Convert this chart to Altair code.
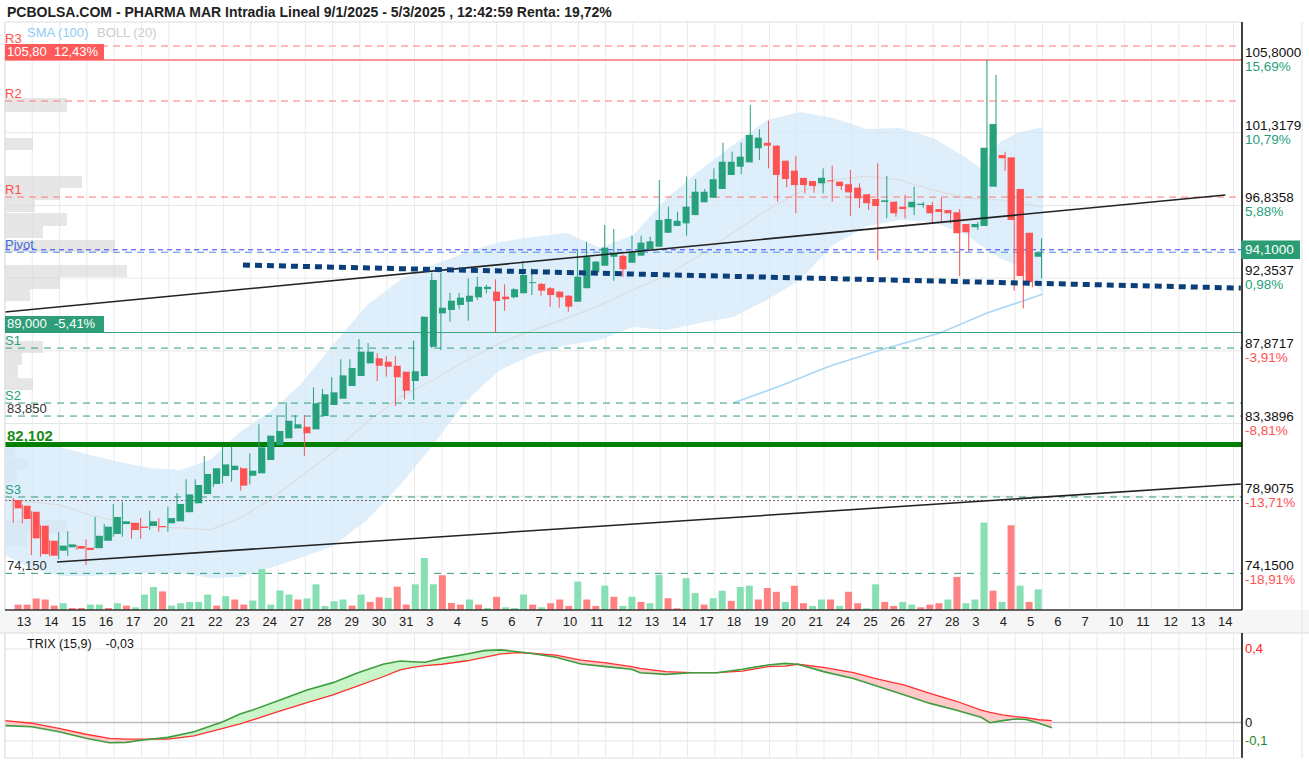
import altair as alt
import pandas as pd
import numpy as np

FONT = "Arial, 'Liberation Sans', sans-serif"
NB = "\u00a0"
TITLE = "PCBOLSA.COM - PHARMA MAR Intradia Lineal 9/1/2025 - 5/3/2025 , 12:42:59 Renta: 19,72%"

day_labels = ["13", "14", "15", "16", "17", "20", "21", "22", "23", "24", "27", "28", "29", "30", "31",
              "3", "4", "5", "6", "7", "10", "11", "12", "13", "14", "17", "18", "19", "20", "21",
              "24", "25", "26", "27", "28", "3", "4", "5", "6", "7", "10", "11", "12", "13", "14"]

opens = [78.67, 78.32, 77.95, 77.09, 76.16, 75.55, 75.76, 75.84, 75.73, 75.70, 76.16, 76.58, 77.19, 77.27, 77.03,
         77.07, 77.07, 77.24, 77.36, 77.92, 78.47, 79.04, 79.66, 80.15, 80.52, 80.63, 80.17, 80.32, 81.14, 82.06,
         82.48, 83.09, 83.19, 83.03, 83.85, 84.53, 84.92, 85.70, 86.32, 87.10, 87.41, 87.20, 86.95, 86.58, 86.01,
         86.32, 88.12, 90.18, 90.39, 90.70, 90.90, 91.17, 91.68, 91.52, 91.21, 91.17, 91.42, 92.04, 92.00, 91.73,
         91.52, 91.27, 90.90, 91.73, 92.71, 93.12, 93.67, 93.73, 93.30, 93.74, 94.15, 94.29, 95.15, 95.57, 95.73,
         96.24, 97.03, 97.31, 97.85, 98.71, 99.22, 99.49, 100.36, 100.70, 100.52, 99.59, 98.98, 98.53, 98.34, 98.20,
         98.38, 98.30, 98.14, 97.93, 97.52, 97.23, 97.05, 97.06, 96.76, 96.72, 96.86, 96.86, 96.61, 96.55, 96.41,
         95.69, 95.49, 95.57, 97.99, 99.94, 99.80, 97.85, 95.15, 93.67]
highs = [78.81, 78.40, 77.98, 77.12, 76.20, 76.68, 76.76, 75.90, 76.25, 77.63, 77.20, 78.43, 78.57, 77.30, 77.56,
         78.01, 77.55, 78.26, 79.09, 79.95, 79.95, 81.39, 80.63, 81.96, 81.96, 80.70, 81.55, 83.34, 82.64, 83.91,
         84.70, 83.91, 83.91, 85.62, 85.52, 86.24, 87.35, 87.35, 88.60, 88.35, 87.72, 87.55, 87.55, 86.60, 88.50,
         90.00, 92.69, 92.67, 91.45, 91.45, 92.34, 92.44, 91.95, 92.28, 91.97, 91.73, 93.41, 92.96, 92.05, 91.80,
         91.55, 91.30, 94.15, 94.60, 93.40, 95.63, 95.38, 93.80, 94.97, 94.97, 94.90, 98.40, 96.76, 96.45, 98.61,
         98.46, 97.85, 99.12, 100.70, 100.15, 100.70, 103.03, 101.53, 102.06, 100.55, 99.60, 99.88, 98.55, 98.35, 99.12,
         99.28, 98.30, 99.02, 98.20, 97.55, 99.43, 98.65, 97.10, 97.48, 97.99, 97.06, 97.06, 97.31, 96.56, 96.61,
         95.70, 95.83, 105.80, 104.88, 100.15, 99.80, 97.85, 95.15, 94.81]
lows = [77.27, 77.24, 75.28, 75.18, 75.20, 75.02, 75.22, 75.60, 74.67, 75.70, 76.16, 76.41, 76.41, 76.29, 76.29,
        76.82, 76.72, 76.72, 77.36, 77.92, 78.47, 79.04, 79.49, 79.70, 79.80, 79.25, 79.64, 80.32, 81.14, 82.06,
        82.48, 83.09, 81.40, 83.03, 83.85, 84.53, 84.92, 85.70, 86.32, 87.10, 86.01, 86.28, 84.47, 84.88, 84.84,
        86.30, 88.04, 87.92, 89.67, 90.43, 89.73, 91.00, 91.42, 89.01, 90.34, 91.10, 91.42, 91.31, 91.27, 90.59,
        90.53, 90.28, 90.90, 91.73, 92.70, 93.12, 92.19, 92.44, 93.30, 93.74, 94.15, 94.29, 95.15, 95.57, 94.97,
        96.24, 97.03, 97.31, 97.85, 98.71, 98.77, 99.49, 99.64, 99.12, 97.06, 97.95, 96.35, 97.58, 97.62, 97.58,
        97.06, 97.79, 96.20, 96.66, 96.55, 93.47, 96.04, 96.14, 96.04, 96.24, 96.70, 95.73, 95.73, 95.73, 92.48,
        93.98, 95.32, 95.57, 97.99, 98.96, 91.58, 90.49, 91.79, 92.34]
closes = [78.16, 77.50, 76.31, 75.34, 75.24, 75.86, 75.94, 75.67, 75.59, 76.47, 77.03, 77.63, 77.36, 76.82, 76.95,
          77.36, 77.00, 77.56, 78.43, 79.02, 79.60, 80.28, 80.63, 80.87, 80.79, 79.56, 80.48, 81.92, 82.64, 82.93,
          83.56, 83.34, 82.79, 84.64, 85.19, 85.31, 86.36, 86.81, 87.82, 87.82, 86.95, 86.89, 86.24, 85.41, 86.61,
          89.97, 92.24, 90.53, 90.96, 91.15, 91.27, 91.82, 91.82, 90.94, 91.05, 91.66, 92.55, 92.10, 91.58, 91.31,
          91.17, 90.59, 92.44, 93.67, 93.37, 94.23, 93.92, 92.90, 93.94, 94.54, 94.62, 95.94, 96.00, 95.89, 96.76,
          97.68, 97.68, 98.45, 99.53, 99.53, 99.84, 101.18, 101.01, 100.52, 98.71, 98.46, 98.09, 98.09, 98.03, 98.54,
          98.32, 98.03, 97.64, 97.27, 96.97, 96.80, 97.15, 96.35, 96.61, 97.06, 96.94, 96.35, 96.43, 96.35, 95.12,
          95.18, 95.69, 100.39, 101.85, 99.74, 95.94, 92.48, 92.10, 93.95]
volumes = [5.4, 5.4, 11.5, 10.5, 4.4, 6.8, 2.0, 2.0, 5.4, 5.4, 2.0, 6.8, 4.4, 2.7, 15.5, 23, 18.6, 4.4, 6.8, 8.1,
           8.1, 15.5, 4.4, 13.9, 10.5, 5.4, 9.5, 40.9, 5.4, 19.6, 15.5, 10.5, 11.5, 25.7, 4.1, 8.8, 10.5, 4.4, 15.5,
           8.1, 12.8, 12.2, 23.3, 5.4, 25.7, 52, 25.7, 34.8, 7.1, 5.4, 10.5, 5.4, 2.0, 13.2, 2.7, 2.0, 15.5,
           5.4, 2.7, 6.8, 10.5, 4.1, 28.4, 10.5, 4.1, 24.3, 13.2, 4.1, 13.2, 8.1, 6.8, 35.1, 11.8, 1.7, 31.8, 16.9,
           5.4, 11.8, 19.3, 9.1, 23, 24.3, 10.5, 22, 18.2, 8.1, 24.3, 6.8, 4.1, 10.5, 10.5, 4.1, 18.2, 6.8, 1.7,
           25.7, 8.1, 4.1, 8.1, 5.4, 2.7, 5.4, 6.8, 10.5, 33.1, 6.8, 10.5, 87.5, 19.3, 8.1, 84.8, 24.3, 8.1, 20.6]
vol_dir = ("RRRRRGRRGGRGRGGGRGGGGGRGRRGGGGGRGGGGGRGRRGRRGGGRRRGRGRGGG"
           "RGRRRGRRGRGGRGGRRGGRGGRGGRRRGRRGGRGRRGGRRGGRRRGRGGGRGRGRG")

boll_k = [-0.9, 1.85, 5.14, 8.44, 11.74, 15.03, 18.33, 21.63, 24.92, 28.22, 31.52, 35.14, 38.88, 42.53, 46.13,
          49.87, 53.49, 57.12, 60.86, 64.48, 68.11, 71.85, 75.47, 79.10, 82.83, 86.46, 90.09, 93.82, 97.45, 101.08,
          104.81, 106.24, 108.44, 110.64, 113.17]
boll_upper = [82.06, 82.06, 81.94, 81.45, 81.02, 80.65, 80.52, 81.14, 82.87, 84.10, 85.76, 88.23, 90.69, 92.24,
              93.16, 93.96, 94.58, 94.89, 95.14, 94.21, 95.01, 97.29, 99.02, 100.56, 102.10, 102.59, 102.22, 101.55,
              101.61, 100.99, 99.76, 99.14, 100.75, 101.36, 101.67]
boll_mid = [78.67, 78.55, 78.37, 77.75, 77.32, 77.01, 76.95, 76.83, 77.56, 78.67, 80.09, 81.63, 83.48, 85.02, 86.07,
            87.31, 88.35, 89.15, 89.89, 90.69, 91.62, 92.55, 93.78, 95.14, 96.55, 97.66, 98.40, 98.65, 98.40, 97.78,
            97.29, 97.23, 97.17, 96.98, 96.74]
boll_lower = [75.28, 74.48, 73.99, 73.99, 74.05, 74.17, 74.17, 73.87, 73.93, 74.48, 75.10, 75.84, 77.44, 79.60,
              82.07, 84.84, 86.69, 87.61, 88.23, 88.54, 89.34, 89.15, 89.59, 89.96, 91.00, 92.24, 94.40, 95.57, 95.94,
              95.81, 95.01, 94.40, 93.59, 93.04, 91.44]

sma_k = [79.1, 84.26, 89.76, 96.02, 101.85, 107.0, 110.64, 113.17]
sma_val = [84.65, 85.70, 86.94, 88.04, 88.97, 90.20, 90.88, 91.37]

prof_lo = [102.59, 100.25, 97.91, 97.17, 96.43, 95.57, 94.83, 93.96, 92.42, 91.68, 90.94, 87.74, 87.00, 86.19,
           85.45, 81.32, 80.52, 79.78, 76.64, 75.84]
prof_hi = [103.46, 100.99, 98.65, 97.91, 97.17, 96.37, 95.57, 94.70, 93.16, 92.42, 91.68, 88.48, 87.74, 87.00,
           86.19, 81.94, 81.26, 80.52, 77.44, 76.64]
prof_vol = [62, 28, 77, 55, 30, 62, 38, 110, 122, 55, 25, 38, 17, 13, 28, 10, 23, 12, 62, 22]

tick_vals = [105.8, 101.3179, 96.8358, 92.3537, 87.8717, 83.3896, 78.9075, 74.15]
tick_text = ["105,8000", "101,3179", "96,8358", "92,3537", "87,8717", "83,3896", "78,9075", "74,1500"]
tick_pct = ["15,69%", "10,79%", "5,88%", "0,98%", "-3,91%", "-8,81%", "-13,71%", "-18,91%"]

trix_k = [-0.90, 2.02, 5.03, 8.00, 10.58, 12.40, 14.26, 17.01, 19.87, 23.05, 24.92, 26.31, 29.10, 32.29, 35.14,
          37.89, 40.64, 42.51, 43.89, 45.25, 47.12, 49.87, 51.74, 53.60, 55.47, 56.85, 59.65, 62.40, 65.14, 67.96,
          68.88, 71.71, 74.51, 77.32, 80.13, 82.95, 84.81, 86.22, 89.04, 92.32, 95.14, 97.95, 100.75, 103.57,
          106.36, 107.34, 108.73, 110.13, 111.30, 112.73, 114.13]
trix_val = [-0.017, -0.023, -0.050, -0.086, -0.110, -0.108, -0.095, -0.081, -0.050, 0.004, 0.046, 0.068, 0.119,
            0.177, 0.217, 0.271, 0.317, 0.335, 0.331, 0.328, 0.349, 0.373, 0.391, 0.395, 0.385, 0.377, 0.355, 0.318,
            0.304, 0.290, 0.271, 0.262, 0.271, 0.271, 0.290, 0.313, 0.322, 0.317, 0.277, 0.240, 0.195, 0.150, 0.104,
            0.068, 0.028, -0.001, 0.010, 0.019, 0.017, -0.004, -0.028]
trix_sig = [0.010, -0.004, -0.032, -0.064, -0.086, -0.091, -0.091, -0.091, -0.073, -0.032, -0.008, 0.014, 0.059,
            0.108, 0.150, 0.199, 0.249, 0.286, 0.300, 0.309, 0.317, 0.336, 0.355, 0.373, 0.380, 0.377, 0.367, 0.340,
            0.325, 0.304, 0.295, 0.277, 0.271, 0.271, 0.280, 0.304, 0.307, 0.317, 0.300, 0.271, 0.235, 0.204, 0.159,
            0.117, 0.068, 0.055, 0.041, 0.032, 0.026, 0.015, 0.010]

trend_id = ["A", "A", "B", "B", "D", "D"]
trend_k = [-0.9, 133.2, 4.81, 134.9, 25.25, 134.9]
trend_p = [90.26, 97.48, 74.85, 79.66, 93.16, 91.74]

# ---------------------------------------------------------------- layout
W, H = 1237, 736
XDOM = [0, 135.93]
GREEN, RED = "#26a17b", "#ff5252"
VOLG, VOLR = "#86e0b4", "#ff8282"


def X(field="slot"):
    return alt.X(f"{field}:Q", scale=alt.Scale(domain=XDOM, range=[0, W], nice=False, zero=False), axis=None)


def YP(field):
    return alt.Y(f"{field}:Q", scale=alt.Scale(domain=[71.893, 108.143], range=[588, 0], nice=False, zero=False),
                 axis=None)


def YT(field):
    return alt.Y(f"{field}:Q", scale=alt.Scale(domain=[-0.1932, 0.4871], range=[736, 611], nice=False, zero=False),
                 axis=None)


N = len(opens)
cdf = pd.DataFrame({"k": np.arange(N), "o": opens, "h": highs, "l": lows, "c": closes, "v": volumes,
                    "vd": list(vol_dir[:N])})
cdf["slot"] = cdf["k"] + 0.9
cdf["col"] = np.where(cdf["c"] >= cdf["o"], GREEN, RED)
cdf["vcol"] = np.where(cdf["vd"] == "G", VOLG, VOLR)
cdf["base"] = 0.0

bdf = pd.DataFrame({"slot": np.array(boll_k) + 0.9, "up": boll_upper, "mid": boll_mid, "lo": boll_lower})
sdf = pd.DataFrame({"slot": np.array(sma_k) + 0.9, "v": sma_val})
pdf = pd.DataFrame({"lo": prof_lo, "hi": prof_hi, "pv": prof_vol, "p0": 0})
tdf = pd.DataFrame({"slot": np.array(trix_k) + 0.9, "t": trix_val, "s": trix_sig})
trdf = pd.DataFrame({"id": trend_id, "slot": np.array(trend_k) + 0.9, "p": trend_p})
gdf = pd.DataFrame({"slot": [3 * i for i in range(46)]})
ddf = pd.DataFrame({"slot": [3 * i + 1.3 for i in range(len(day_labels))], "txt": day_labels})
tkdf = pd.DataFrame({"p": tick_vals, "txt": tick_text, "pct": tick_pct,
                     "pcol": [GREEN if not s.startswith("-") else RED for s in tick_pct]})
one = pd.DataFrame({"a": [0]})

layers = []

# label band background
layers.append(alt.Chart(one).mark_rect(color="#f6f6f6").encode(
    x=alt.value(-5), x2=alt.value(1304), y=alt.value(588), y2=alt.value(611)))

# vertical grid
for y0, y1 in [(0, 588), (611, 736)]:
    layers.append(alt.Chart(gdf).mark_rule(color="#ebebeb", strokeWidth=1).encode(
        x=X(), y=alt.value(y0), y2=alt.value(y1)))

# horizontal grid
layers.append(alt.Chart(tkdf.iloc[:7]).mark_rule(color="#e6e6e6", strokeWidth=1).encode(
    y=YP("p"), x=alt.value(0), x2=alt.value(W)))

# volume profile
layers.append(alt.Chart(pdf).mark_rect(color="#d6d6d6", opacity=0.6).encode(
    x=alt.X("p0:Q", scale=alt.Scale(domain=[0, 200], range=[0, 200]), axis=None), x2="pv:Q",
    y=YP("hi"), y2="lo:Q"))

# bollinger band
layers.append(alt.Chart(bdf).mark_area(color="#d3e9fa", opacity=0.75, clip=True).encode(
    x=X(), y=YP("up"), y2="lo:Q"))
layers.append(alt.Chart(bdf).mark_line(color="#dcdcdc", strokeWidth=1.2, clip=True).encode(x=X(), y=YP("mid")))
layers.append(alt.Chart(sdf).mark_line(color="#a9d7f7", strokeWidth=1.6).encode(x=X(), y=YP("v")))

# horizontal level lines
level_names = ["R3", "MAX", "R2", "R1", "PRICE", "Pivot", "SUP89", "S1", "S2", "L8385", "L82", "S3", "DOT", "MIN"]
level_values = [106.66, 105.80, 103.27, 97.35, 94.10, 93.95, 89.00, 88.04, 84.65, 83.85, 82.102, 78.86, 78.64, 74.15]
styles = {
    "R3": ("#ff7777", [7, 5], 1), "MAX": ("#ff7777", None, 1.3), "R2": ("#ff7777", [7, 5], 1),
    "R1": ("#ff7777", [7, 5], 1), "PRICE": ("#3a3aff", [5, 4], 1), "Pivot": ("#4d8fe0", [7, 5], 1),
    "SUP89": ("#3aa57f", None, 1), "S1": ("#2e9e75", [7, 6], 1), "S2": ("#2e9e75", [7, 6], 1),
    "L8385": ("#2e9e75", [7, 6], 1), "L82": ("#008000", None, 5), "S3": ("#2e9e75", [7, 6], 1),
    "DOT": ("#666666", [2, 2], 1), "MIN": ("#2e9e75", [7, 6], 1),
}
for nm, val in zip(level_names, level_values):
    col, dash, sw = styles[nm]
    kw = dict(color=col, strokeWidth=sw)
    if dash:
        kw["strokeDash"] = dash
    layers.append(alt.Chart(pd.DataFrame({"p": [val]})).mark_rule(**kw).encode(
        y=YP("p"), x=alt.value(0), x2=alt.value(W)))

# volume bars
layers.append(alt.Chart(cdf).mark_bar(size=7).encode(
    x=X(), y=alt.Y("v:Q", scale=alt.Scale(domain=[0, 100], range=[588, 488], nice=False, zero=False), axis=None),
    y2="base:Q", color=alt.Color("vcol:N", scale=None)))

# candles
layers.append(alt.Chart(cdf).mark_rule(strokeWidth=1).encode(
    x=X(), y=YP("l"), y2="h:Q", color=alt.Color("col:N", scale=None)))
layers.append(alt.Chart(cdf).mark_bar(size=7).encode(
    x=X(), y=YP("o"), y2="c:Q", color=alt.Color("col:N", scale=None)))

# trend lines
layers.append(alt.Chart(trdf[trdf.id != "D"]).mark_line(color="#222222", strokeWidth=1.6, clip=True).encode(
    x=X(), y=YP("p"), detail="id:N"))
layers.append(alt.Chart(trdf[trdf.id == "D"]).mark_line(color="#0b3f7a", strokeWidth=5, strokeDash=[7, 5],
                                                        clip=True).encode(x=X(), y=YP("p")))

# TRIX panel
layers.append(alt.Chart(pd.DataFrame({"p": [0.4, -0.1]})).mark_rule(color="#e6e6e6").encode(
    y=YT("p"), x=alt.value(0), x2=alt.value(W)))
layers.append(alt.Chart(pd.DataFrame({"p": [0.0]})).mark_rule(color="#bdbdbd", strokeWidth=1.5).encode(
    y=YT("p"), x=alt.value(0), x2=alt.value(W)))
layers.append(alt.Chart(tdf).transform_calculate(top="max(datum.t, datum.s)").mark_area(
    color="#c9f5c9", clip=True).encode(x=X(), y=YT("top"), y2="s:Q"))
layers.append(alt.Chart(tdf).transform_calculate(bot="min(datum.t, datum.s)").mark_area(
    color="#ffc9c9", clip=True).encode(x=X(), y=YT("s"), y2="bot:Q"))
layers.append(alt.Chart(tdf).mark_line(color="#ff3030", strokeWidth=1.3, clip=True).encode(x=X(), y=YT("s")))
layers.append(alt.Chart(tdf).mark_line(color="#3f9d3f", strokeWidth=1.6, clip=True).encode(x=X(), y=YT("t")))


# borders
def vrule(x, y0, y1, col, sw=1):
    return alt.Chart(one).mark_rule(color=col, strokeWidth=sw).encode(
        x=alt.value(x), y=alt.value(y0), y2=alt.value(y1))


def hrule(y, x0, x1, col, sw=1):
    return alt.Chart(one).mark_rule(color=col, strokeWidth=sw).encode(
        y=alt.value(y), x=alt.value(x0), x2=alt.value(x1))


layers += [
    hrule(0, 0, W, "#dddddd"), vrule(0, 0, 588, "#dddddd"),
    hrule(588, 0, W, "#333333", 1.5), hrule(611, -5, 1304, "#dddddd"),
    vrule(W, 0, 588, "#000000", 1.5), vrule(W, 611, 736, "#000000", 1.5),
    vrule(0, 611, 736, "#dddddd"), hrule(736, 0, W, "#dddddd"), vrule(1297, 0, 736, "#e3e3e3"),
]

# day labels
layers.append(alt.Chart(ddf).mark_text(align="left", baseline="middle", fontSize=13, font=FONT,
                                       color="#222222").encode(x=X(), y=alt.value(599.5), text="txt:N"))

# right axis labels
layers.append(alt.Chart(tkdf).mark_text(align="left", baseline="middle", fontSize=13.5, font=FONT, dy=-7,
                                        color="#111111").encode(x=alt.value(1240), y=YP("p"), text="txt:N"))
layers.append(alt.Chart(tkdf).mark_text(align="left", baseline="middle", fontSize=13.5, font=FONT, dy=7).encode(
    x=alt.value(1240), y=YP("p"), text="pct:N", color=alt.Color("pcol:N", scale=None)))

# current price box
pbox = pd.DataFrame({"p": [94.10], "t": ["94,1000"], "hi": [94.10 + 0.57], "lo": [94.10 - 0.57]})
layers.append(alt.Chart(pbox).mark_rect(color="#2a9d74").encode(
    x=alt.value(1236), x2=alt.value(1295), y=YP("hi"), y2="lo:Q"))
layers.append(alt.Chart(pbox).mark_text(align="left", baseline="middle", fontSize=13.5, font=FONT,
                                        color="white").encode(x=alt.value(1240), y=YP("p"), text="t:N"))

# left boxes
boxes = pd.DataFrame({"hi": [106.79, 90.02], "lo": [105.80, 88.97], "mid": [106.29, 89.50],
                      "t": ["105,80" + NB * 2 + "12,43%", "89,000" + NB * 2 + "-5,41%"],
                      "c": ["#ff5a5a", "#2e9e78"]})
layers.append(alt.Chart(boxes).mark_rect().encode(
    x=alt.value(0), x2=alt.value(99), y=YP("hi"), y2="lo:Q", color=alt.Color("c:N", scale=None)))
layers.append(alt.Chart(boxes).mark_text(align="left", baseline="middle", fontSize=13, font=FONT,
                                         color="white").encode(x=alt.value(2), y=YP("mid"), text="t:N"))

# left level labels
lab = pd.DataFrame({
    "p": [106.66, 103.27, 97.35, 93.95, 88.04, 84.65, 83.85, 78.86, 74.15],
    "t": ["R3", "R2", "R1", "Pivot", "S1", "S2", "83,850", "S3", "74,150"],
    "c": ["#ff4d4d", "#ff4d4d", "#ff4d4d", "#3d6fd6", "#26a17b", "#26a17b", "#333333", "#26a17b", "#333333"],
    "x": [0, 0, 0, 0, 0, 0, 2, 0, 2]})
for _, r in lab.iterrows():
    layers.append(alt.Chart(pd.DataFrame({"p": [r.p], "t": [r.t]})).mark_text(
        align="left", baseline="middle", fontSize=13, font=FONT, dy=-7, color=r.c).encode(
        x=alt.value(r.x), y=YP("p"), text="t:N"))
layers.append(alt.Chart(pd.DataFrame({"p": [82.102], "t": ["82,102"]})).mark_text(
    align="left", baseline="middle", fontSize=15, font=FONT, fontWeight="bold", dy=-8, color="#1a8a1a").encode(
    x=alt.value(2), y=YP("p"), text="t:N"))

# title, legend
layers.append(alt.Chart(pd.DataFrame({"t": [TITLE]})).mark_text(
    align="left", baseline="middle", fontSize=14, fontWeight="bold", font=FONT, color="#222222").encode(
    x=alt.value(2), y=alt.value(-9), text="t:N"))
layers.append(alt.Chart(pd.DataFrame({"t": ["SMA (100)"]})).mark_text(
    align="left", baseline="middle", fontSize=13, font=FONT, color="#8fcdf4").encode(
    x=alt.value(22), y=alt.value(11), text="t:N"))
layers.append(alt.Chart(pd.DataFrame({"t": ["BOLL (20)"]})).mark_text(
    align="left", baseline="middle", fontSize=13, font=FONT, color="#cccccc").encode(
    x=alt.value(92), y=alt.value(11), text="t:N"))
layers.append(alt.Chart(pd.DataFrame({"t": ["TRIX (15,9)" + NB * 4 + "-0,03"]})).mark_text(
    align="left", baseline="middle", fontSize=12.5, font=FONT, color="#111111").encode(
    x=alt.value(22), y=alt.value(622), text="t:N"))

trl = pd.DataFrame({"p": [0.4, 0.0, -0.1], "t": ["0,4", "0", "-0,1"], "c": ["#ff2020", "#111111", "#1a8a1a"]})
layers.append(alt.Chart(trl).mark_text(align="left", baseline="middle", fontSize=13, font=FONT).encode(
    x=alt.value(1240), y=YT("p"), text="t:N", color=alt.Color("c:N", scale=None)))

chart = alt.layer(*layers).resolve_scale(x="independent", y="independent").properties(
    width=W, height=H,
    autosize=alt.AutoSizeParams(type="none"),
    padding={"left": 5, "top": 22, "right": 67, "bottom": 5},
    background="white",
).configure_view(strokeWidth=0)

chart.save("out.html", embed_options={"renderer": "svg", "actions": False})
